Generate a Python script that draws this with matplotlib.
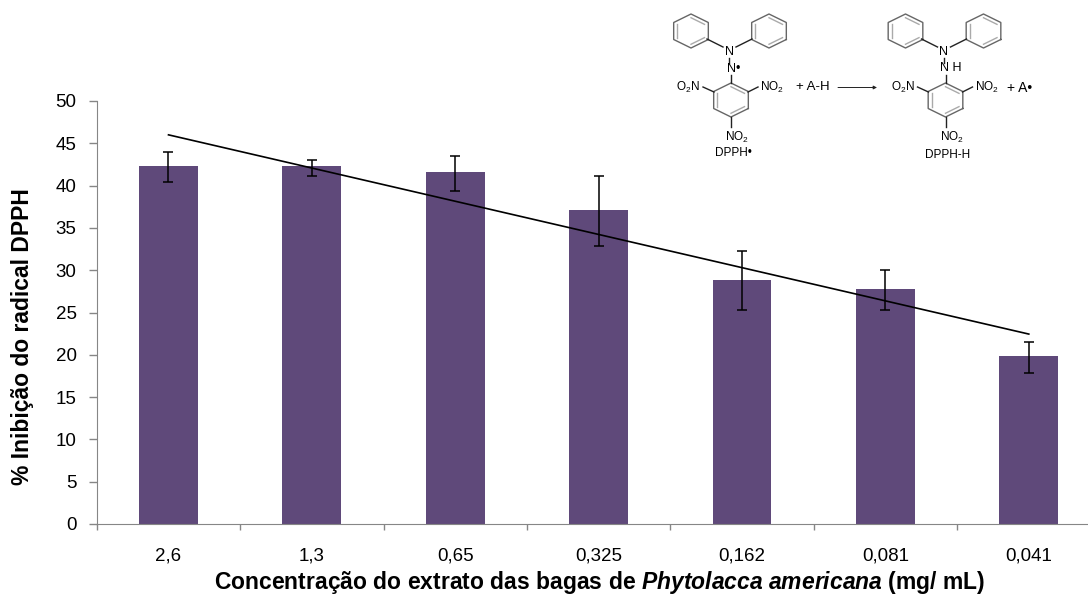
import numpy as np
import matplotlib
matplotlib.use('Agg')
import matplotlib.pyplot as plt

plt.rcParams['font.family'] = ['Liberation Sans', 'DejaVu Sans']
plt.rcParams['mathtext.fontset'] = 'custom'
plt.rcParams['mathtext.rm'] = 'Liberation Sans'
plt.rcParams['mathtext.it'] = 'Liberation Sans:italic'
plt.rcParams['mathtext.bf'] = 'Liberation Sans:bold'
plt.rcParams['mathtext.bfit'] = 'Liberation Sans:italic:bold'

concentrations = ['2,6', '1,3', '0,65', '0,325', '0,162', '0,081', '0,041']
inhibition = [42.35, 42.35, 41.6, 37.15, 28.9, 27.75, 19.85]
err_low = [1.95, 1.2, 2.2, 4.3, 3.55, 2.4, 2.0]
err_high = [1.65, 0.7, 1.9, 3.95, 3.4, 2.25, 1.7]
trend_x = [0, 6]
trend_y = [46.0, 22.45]

W, H = 1088, 596
AX_LEFT, AX_RIGHT, AX_TOP, AX_BOTTOM = 96.8, 1100.5, 101, 524
PURPLE = '#5F497A'
GREY = '#868686'

fig = plt.figure(figsize=(W / 100, H / 100), dpi=100)
ax = fig.add_axes([AX_LEFT / W, 1 - AX_BOTTOM / H,
                   (AX_RIGHT - AX_LEFT) / W, (AX_BOTTOM - AX_TOP) / H])

x = np.arange(len(concentrations))
ax.bar(x, inhibition, width=0.41, color=PURPLE, zorder=2)
ax.errorbar(x, inhibition, yerr=[err_low, err_high], fmt='none', ecolor='black',
            elinewidth=1.1, capsize=3.4, capthick=1.1, zorder=3)
ax.plot(trend_x, trend_y, color='black', lw=1.2, zorder=4)

ax.set_xlim(-0.5, 6.5)
ax.set_ylim(0, 50)
ax.set_yticks(range(0, 51, 5))
ax.set_xticks(x)
ax.set_xticklabels(concentrations)
ax.set_xticks(np.arange(-0.5, 7, 1), minor=True)
ax.tick_params(axis='x', which='major', length=0, pad=17, labelsize=13.5)
ax.tick_params(axis='x', which='minor', length=4.2, width=1, color=GREY)
ax.tick_params(axis='y', length=5.5, width=1, color=GREY, pad=9, labelsize=13.5)
ax.spines['top'].set_visible(False)
ax.spines['right'].set_visible(False)
ax.spines['left'].set_color(GREY)
ax.spines['bottom'].set_color(GREY)

fig.text(23 / W, 1 - 337 / H, '% Inibição do radical DPPH', rotation=90,
         ha='center', va='center', fontsize=16.5, fontweight='bold')
fig.text(600 / W, 1 - 583 / H,
         r'Concentração do extrato das bagas de $\mathbfit{Phytolacca\ americana}$ (mg/ mL)',
         ha='center', va='center', fontsize=16.5, fontweight='bold')

# DPPH reaction scheme, drawn in pixel positions of the image
scheme = fig.add_axes([0, 0, 1, 1], facecolor='none')
scheme.set_xlim(0, W)
scheme.set_ylim(H, 0)
scheme.axis('off')
RING = '#666666'
BOND = '#222222'


def ring(cx, cy, rx=20, ry=17):
    ang = np.radians(np.arange(30, 391, 60))
    px, py = cx + rx * np.cos(ang), cy + ry * np.sin(ang)
    scheme.plot(px, py, color=RING, lw=1.0)
    # inner double bonds
    for i in (0, 2, 4):
        a = cx + 0.78 * rx * np.cos(ang[i:i + 2])
        b = cy + 0.78 * ry * np.sin(ang[i:i + 2])
        scheme.plot(a, b, color='#aaaaaa', lw=1.0)


def bond(x0, y0, x1, y1):
    scheme.plot([x0, x1], [y0, y1], color=BOND, lw=1.0)


def label(px, py, s, size=8.5):
    scheme.text(px, py, s, ha='center', va='center', fontsize=size, color='black')


def molecule(dx):
    ring(691 + dx, 31)
    ring(769 + dx, 31)
    ring(731 + dx, 100)
    bond(707 + dx, 39, 723 + dx, 47)
    bond(752 + dx, 39, 736 + dx, 47)
    bond(729 + dx, 58, 729 + dx, 63)
    bond(731 + dx, 75, 731 + dx, 83)
    bond(703 + dx, 87, 714 + dx, 92)
    bond(748 + dx, 92, 758 + dx, 87)
    bond(731 + dx, 117, 731 + dx, 127)
    label(729 + dx, 52, 'N', 9)
    label(688 + dx, 87, r'O$_2$N')
    label(772 + dx, 87, r'NO$_2$')
    label(737 + dx, 137, r'NO$_2$')


molecule(0)
molecule(214.5)
label(734, 69, 'N•', 9)
label(951, 68, 'N H', 9)
label(813, 87.5, '+ A-H', 9.5)
label(1020, 87.5, '+ A•', 10)
label(733, 153, 'DPPH•', 8.5)
label(948, 155, 'DPPH-H', 8.5)
scheme.annotate('', xy=(877, 87.5), xytext=(838, 87.5),
                arrowprops=dict(arrowstyle='-|>', color=BOND, lw=0.7,
                                mutation_scale=5, shrinkA=0, shrinkB=0))

fig.savefig('out.png', dpi=100)
